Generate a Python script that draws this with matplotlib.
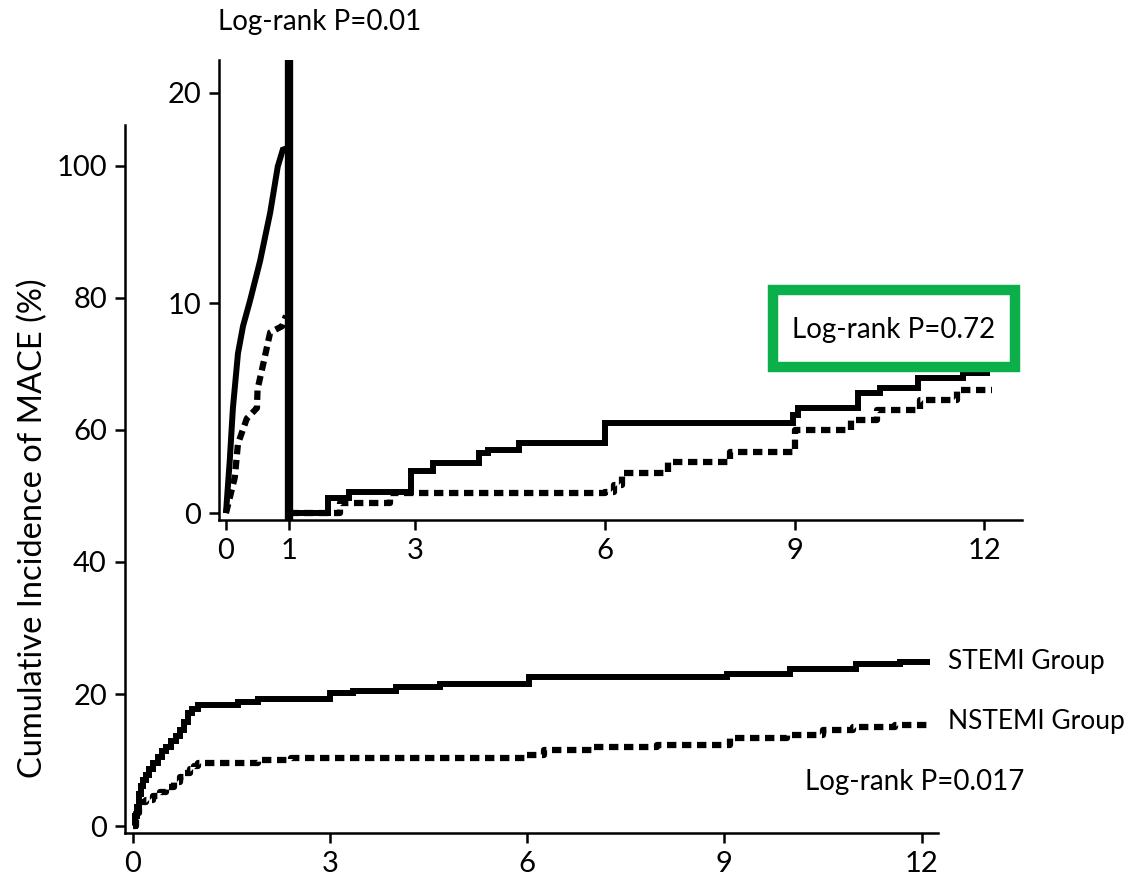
import matplotlib
matplotlib.use("Agg")
import matplotlib.pyplot as plt
from matplotlib.patches import Rectangle

plt.rcParams['font.family'] = ['Lato', 'DejaVu Sans']

# ---------------- data ----------------
# Main plot (0-12 months), cumulative incidence %
stemi_t = [0, 0.03, 0.06, 0.10, 0.13, 0.16, 0.20, 0.25, 0.31, 0.38, 0.45, 0.51, 0.58, 0.65,
           0.72, 0.78, 0.84, 0.90, 0.99, 1.60, 1.90, 3.00, 3.35, 4.00, 4.67, 6.02, 9.04,
           10.00, 11.00, 11.67, 12.13]
stemi_v = [0, 1.5, 2.9, 4.8, 6.0, 7.0, 7.8, 8.7, 9.5, 10.4, 11.3, 12.0, 12.9, 13.7,
           14.5, 15.8, 17.1, 17.8, 18.3, 18.8, 19.3, 20.1, 20.5, 21.1, 21.5, 22.6, 23.1,
           23.8, 24.5, 24.9, 24.9]
nstemi_t = [0, 0.05, 0.10, 0.20, 0.31, 0.41, 0.51, 0.62, 0.72, 0.80, 0.87, 0.93, 0.99,
            1.90, 2.40, 6.00, 6.25, 7.00, 7.97, 9.09, 9.95, 10.50, 10.95, 11.60, 12.13]
nstemi_v = [0, 2.0, 3.6, 3.9, 4.5, 5.2, 5.9, 6.7, 7.5, 8.1, 8.7, 9.1, 9.6,
            10.0, 10.3, 10.8, 11.5, 11.9, 12.3, 13.4, 13.8, 14.5, 15.0, 15.3, 15.5]

# Inset: landmark analysis, 0-1 month
in_a_stemi_t = [0, 0.06, 0.11, 0.19, 0.27, 0.38, 0.54, 0.70, 0.82, 0.90, 1.00]
in_a_stemi_v = [0, 2.5, 5.0, 7.6, 8.9, 10.1, 12.0, 14.3, 16.5, 17.3, 17.4]
in_a_nstemi_t = [0, 0.14, 0.19, 0.33, 0.49, 0.50, 0.59, 0.70, 0.89, 0.95]
in_a_nstemi_v = [0, 1.7, 3.3, 4.5, 5.0, 5.9, 7.1, 8.6, 8.9, 9.4]
# Inset: 1-12 months
in_b_stemi_t = [1.0, 1.61, 1.95, 2.93, 3.27, 4.00, 4.15, 4.64, 6.00, 8.97, 9.05,
                10.00, 10.35, 10.95, 11.66, 12.10]
in_b_stemi_v = [0, 0.7, 1.0, 2.0, 2.4, 2.85, 3.0, 3.35, 4.3, 4.67, 5.0,
                5.7, 5.95, 6.45, 6.67, 6.67]
in_b_nstemi_t = [1.0, 1.80, 2.60, 6.00, 6.15, 6.27, 7.00, 7.98, 9.00, 9.90, 10.30,
                 10.98, 11.57, 12.13]
in_b_nstemi_v = [0, 0.46, 0.94, 1.0, 1.33, 1.92, 2.44, 2.92, 3.95, 4.43, 4.9,
                 5.38, 5.86, 5.86]

main_xticks = [0, 3, 6, 9, 12]
main_yticks = [0, 20, 40, 60, 80, 100]
inset_xticks = [0, 1, 3, 6, 9, 12]
inset_yticks = [0, 10, 20]

ylabel = "Cumulative Incidence of MACE (%)"
p_inset_early = "Log-rank P=0.01"
p_inset_late = "Log-rank P=0.72"
p_main = "Log-rank P=0.017"
labels = ["STEMI Group", "NSTEMI Group"]

# ---------------- figure ----------------
fig = plt.figure(figsize=(11.33, 8.9), dpi=100)

solid_kw = dict(color='black', lw=4.3, solid_joinstyle='miter', solid_capstyle='butt')
dot_kw = dict(color='black', lw=4.5, dashes=(1.5, 0.9), dash_capstyle='butt')


def style_axes(ax):
    for s in ['top', 'right']:
        ax.spines[s].set_visible(False)
    for s in ['left', 'bottom']:
        ax.spines[s].set_linewidth(1.8)
    ax.tick_params(direction='out', length=7, width=1.8, labelsize=21, pad=6)


# Main axes
ax = fig.add_axes([0.1103, 0.064, 0.7176, 0.7956])
ax.plot(stemi_t, stemi_v, drawstyle='steps-post', **solid_kw)
ax.plot(nstemi_t, nstemi_v, drawstyle='steps-post', **dot_kw)
ax.set_xlim(-0.12, 12.25)
ax.set_ylim(-1.06, 106.2)
ax.set_xticks(main_xticks)
ax.set_yticks(main_yticks)
style_axes(ax)
ax.set_ylabel(ylabel, fontsize=23.5)
ax.yaxis.set_label_coords(-0.094, 0.431)

# Inset axes
ia = fig.add_axes([0.1933, 0.4157, 0.7087, 0.5169])
ia.plot(in_a_stemi_t, in_a_stemi_v, **solid_kw)
ia.plot(in_a_nstemi_t, in_a_nstemi_v, **dot_kw)
ia.plot(in_b_stemi_t, in_b_stemi_v, drawstyle='steps-post', **solid_kw)
ia.plot(in_b_nstemi_t, in_b_nstemi_v, drawstyle='steps-post', **dot_kw)
ia.axvline(1, color='black', lw=6)
ia.set_xlim(-0.11, 12.6)
ia.set_ylim(-0.33, 21.57)
ia.set_xticks(inset_xticks)
ia.set_yticks(inset_yticks)
style_axes(ia)

# Texts
fig.text(320 / 1133, 1 - 22 / 890, p_inset_early, fontsize=20, ha='center', va='center')
fig.text(948 / 1133, 1 - 662 / 890, labels[0], fontsize=19, ha='left', va='center')
fig.text(948 / 1133, 1 - 722 / 890, labels[1], fontsize=19, ha='left', va='center')
fig.text(805 / 1133, 1 - 782 / 890, p_main, fontsize=20, ha='left', va='center')

# Green box with p value
box = Rectangle((773 / 1133, 1 - 367 / 890), (1015 - 773) / 1133, (367 - 290) / 890,
                transform=fig.transFigure, fill=False, edgecolor='#0bb04b', lw=7.5,
                zorder=10)
fig.patches.append(box)
fig.text(894 / 1133, 1 - 330 / 890, p_inset_late, fontsize=20, ha='center', va='center')

fig.savefig("out.png", dpi=100)
